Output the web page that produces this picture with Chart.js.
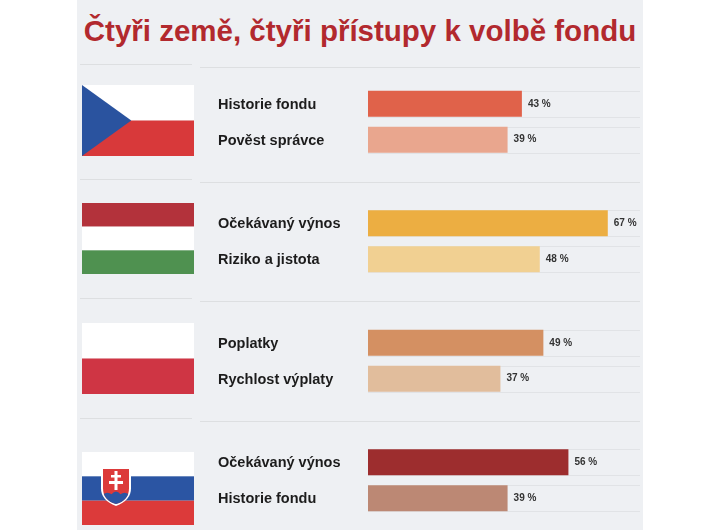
<!DOCTYPE html>
<html lang="cs">
<head>
    <meta charset="UTF-8">
    <title>Čtyři země, čtyři přístupy k volbě fondu</title>
    <script src="https://cdn.jsdelivr.net/npm/chart.js"></script>
    <style>
        html, body { margin: 0; padding: 0; background: #ffffff; }
        #wrap { position: relative; width: 720px; height: 530px; overflow: hidden; }
        #panel { position: absolute; left: 77px; top: 0; width: 566px; height: 530px; background: #eef0f3; }
        #title { position: absolute; left: 0; top: 14px; width: 720px; text-align: center;
                 font-family: "Liberation Sans", Arial, sans-serif; font-weight: bold; font-size: 29.5px;
                 color: #b2292e; letter-spacing: 0px; }
        #chart { position: absolute; left: 0; top: 0; }
    </style>
</head>
<body>
<div id="wrap">
    <div id="panel"></div>
    <div id="title">Čtyři země, čtyři přístupy k volbě fondu</div>
    <canvas id="chart" width="720" height="545"></canvas>
</div>
<script>
    // data
    const countries = ["Česko", "Maďarsko", "Polsko", "Slovensko"];
    const factors = [
        ["Historie fondu", "Pověst správce"],
        ["Očekávaný výnos", "Riziko a jistota"],
        ["Poplatky", "Rychlost výplaty"],
        ["Očekávaný výnos", "Historie fondu"]
    ];
    const shares = [
        [43, 39],
        [67, 48],
        [49, 37],
        [56, 39]
    ];
    const barColors = [
        ["#e0624a", "#e9a68e"],
        ["#ecae42", "#f1d092"],
        ["#d49062", "#e1bd9c"],
        ["#9d2d2e", "#bc8874"]
    ];

    const FONT = "'Liberation Sans', Arial, sans-serif";

    function drawFlag(ctx, name, x, y, w, h) {
        ctx.save();
        if (name === "Česko") {
            ctx.fillStyle = "#ffffff"; ctx.fillRect(x, y, w, h / 2);
            ctx.fillStyle = "#d8393a"; ctx.fillRect(x, y + h / 2, w, h / 2);
            ctx.fillStyle = "#2a539f";
            ctx.beginPath(); ctx.moveTo(x, y); ctx.lineTo(x + w * 0.44, y + h / 2); ctx.lineTo(x, y + h); ctx.closePath(); ctx.fill();
        } else if (name === "Maďarsko") {
            ctx.fillStyle = "#b3323b"; ctx.fillRect(x, y, w, h / 3);
            ctx.fillStyle = "#ffffff"; ctx.fillRect(x, y + h / 3, w, h / 3);
            ctx.fillStyle = "#4f9150"; ctx.fillRect(x, y + 2 * h / 3, w, h / 3);
        } else if (name === "Polsko") {
            ctx.fillStyle = "#ffffff"; ctx.fillRect(x, y, w, h / 2);
            ctx.fillStyle = "#cf3544"; ctx.fillRect(x, y + h / 2, w, h / 2);
        } else if (name === "Slovensko") {
            ctx.fillStyle = "#ffffff"; ctx.fillRect(x, y, w, h / 3);
            ctx.fillStyle = "#2b55a3"; ctx.fillRect(x, y + h / 3, w, h / 3);
            ctx.fillStyle = "#dc3a3a"; ctx.fillRect(x, y + 2 * h / 3, w, h / 3);
            // coat of arms
            const sx = x + 19, sy = y + 15, sw = 30, sh = 39;
            const shield = (pad) => {
                ctx.beginPath();
                ctx.moveTo(sx + pad, sy + pad);
                ctx.lineTo(sx + sw - pad, sy + pad);
                ctx.lineTo(sx + sw - pad, sy + sh * 0.55);
                ctx.quadraticCurveTo(sx + sw - pad, sy + sh * 0.85, sx + sw / 2, sy + sh - pad);
                ctx.quadraticCurveTo(sx + pad, sy + sh * 0.85, sx + pad, sy + sh * 0.55);
                ctx.closePath();
            };
            ctx.fillStyle = "#ffffff"; shield(0); ctx.fill();
            ctx.fillStyle = "#dc3a3a"; shield(2); ctx.fill();
            ctx.save(); shield(2); ctx.clip();
            ctx.fillStyle = "#2b55a3";
            ctx.beginPath();
            ctx.moveTo(sx, sy + sh);
            ctx.lineTo(sx, sy + sh * 0.74);
            ctx.quadraticCurveTo(sx + sw * 0.2, sy + sh * 0.6, sx + sw * 0.35, sy + sh * 0.7);
            ctx.quadraticCurveTo(sx + sw * 0.5, sy + sh * 0.55, sx + sw * 0.65, sy + sh * 0.7);
            ctx.quadraticCurveTo(sx + sw * 0.8, sy + sh * 0.6, sx + sw, sy + sh * 0.74);
            ctx.lineTo(sx + sw, sy + sh);
            ctx.closePath(); ctx.fill();
            ctx.restore();
            ctx.fillStyle = "#ffffff";
            const cx = sx + sw / 2;
            ctx.fillRect(cx - 1.5, sy + 4, 3, 19);
            ctx.fillRect(cx - 5, sy + 8, 10, 2.5);
            ctx.fillRect(cx - 7, sy + 14, 14, 3);
        }
        ctx.restore();
    }

    const decorPlugin = {
        id: "decor",
        beforeDatasetsDraw(chart) {
            const ctx = chart.ctx, area = chart.chartArea, y = chart.scales.y;
            const pitch = y.getPixelForValue(1) - y.getPixelForValue(0);
            ctx.save();
            ctx.lineWidth = 1;
            // faint row lines along the bar edges
            ctx.strokeStyle = "rgba(0,0,0,0.05)";
            chart.data.datasets.forEach((ds, d) => {
                chart.getDatasetMeta(d).data.forEach(bar => {
                    [bar.y - bar.height / 2, bar.y + bar.height / 2].forEach(ly => {
                        ctx.beginPath(); ctx.moveTo(area.left, Math.round(ly) + 0.5); ctx.lineTo(area.right, Math.round(ly) + 0.5); ctx.stroke();
                    });
                });
            });
            // separators between countries
            ctx.strokeStyle = "rgba(0,0,0,0.07)";
            countries.forEach((c, i) => {
                let yy = Math.round(y.getPixelForValue(i) - pitch / 2) + 0.5;
                if (i === 0) yy += 5;
                ctx.beginPath(); ctx.moveTo(80, yy - 3); ctx.lineTo(192, yy - 3); ctx.stroke();
                ctx.beginPath(); ctx.moveTo(200, yy); ctx.lineTo(area.right, yy); ctx.stroke();
            });
            // flags
            countries.forEach((c, i) => {
                const mid = y.getPixelForValue(i);
                const shift = c === "Slovensko" ? 8 : (i === 0 ? -1 : -2);
                drawFlag(ctx, c, 82, Math.round(mid - 36 + shift), 112, c === "Slovensko" ? 73 : 71);
            });
            ctx.restore();
        },
        afterDatasetsDraw(chart) {
            const ctx = chart.ctx;
            ctx.save();
            ctx.textAlign = "left";
            ctx.textBaseline = "middle";
            chart.data.datasets.forEach((ds, d) => {
                chart.getDatasetMeta(d).data.forEach((bar, i) => {
                    // factor name on the left
                    ctx.font = "bold 14.5px " + FONT;
                    ctx.fillStyle = "#1c1c1c";
                    ctx.fillText(factors[i][d], 218, bar.y + 1);
                    // value after the bar
                    ctx.font = "bold 10px " + FONT;
                    ctx.fillStyle = "#333333";
                    ctx.fillText(shares[i][d] + " %", bar.x + 6, bar.y);
                });
            });
            ctx.restore();
        }
    };

    new Chart(document.getElementById("chart"), {
        type: "bar",
        data: {
            labels: countries,
            datasets: [0, 1].map(d => ({
                data: shares.map(s => s[d]),
                backgroundColor: barColors.map(c => c[d]),
                borderWidth: 0,
                categoryPercentage: 0.6,
                barPercentage: 0.725
            }))
        },
        options: {
            indexAxis: "y",
            responsive: false,
            animation: false,
            layout: { padding: { left: 368, right: 80, top: 62, bottom: 5 } },
            plugins: { legend: { display: false }, tooltip: { enabled: false } },
            scales: {
                x: { display: false, min: 0, max: 76 },
                y: { display: false }
            }
        },
        plugins: [decorPlugin]
    });
</script>
</body>
</html>
